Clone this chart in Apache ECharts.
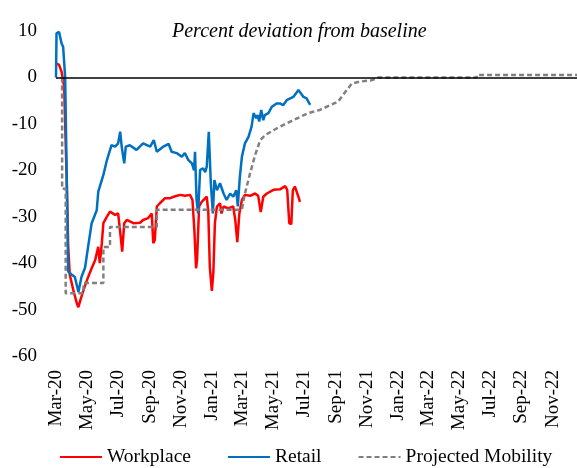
<!DOCTYPE html>
<html>
<head>
<meta charset="utf-8">
<script src="https://cdn.jsdelivr.net/npm/echarts@6/dist/echarts.min.js"></script>
<style>
  html, body { margin: 0; padding: 0; background: #fff; }
  #chart { width: 577px; height: 468px; }
</style>
</head>
<body>
<div id="chart"></div>
<script>
// x values are days since 1 Mar 2020
const tickDays = [0, 61, 122, 184, 245, 306, 365, 426, 487, 549, 610, 671, 730, 791, 852, 914, 975];
const tickLabels = ["Mar-20", "May-20", "Jul-20", "Sep-20", "Nov-20", "Jan-21", "Mar-21", "May-21", "Jul-21",
    "Sep-21", "Nov-21", "Jan-22", "Mar-22", "May-22", "Jul-22", "Sep-22", "Nov-22"];

const workplaceDays = [1, 6, 11, 16, 21, 24, 27, 34, 41, 44, 47, 54, 61, 70, 77, 83, 86, 90, 93, 100, 106, 116, 122, 127,
    130, 134, 139, 152, 165, 171, 181, 188, 191, 194, 198, 204, 214, 224, 234, 244, 253, 263, 268, 272, 275, 277, 281,
    286, 296, 299, 302, 306, 309, 312, 316, 322, 325, 329, 338, 348, 352, 356, 360, 365, 371, 381, 391, 397, 402, 407,
    414, 427, 440, 450, 454, 458, 462, 465, 469, 476, 479];
const workplace = [3.0, 2.7, 1.2, -2, -22, -36.5, -42.5, -45.8, -48.7, -49.5, -48.3, -45.8, -43.6, -41.1, -39.3, -36.5,
    -40, -35.7, -31.4, -30, -28.9, -29.6, -29.3, -34.3, -37.5, -31.4, -30.7, -31.4, -31.3, -30.7, -30.3, -29.3, -35.7,
    -35, -27.8, -27.1, -26, -26, -25.6, -25.3, -25.5, -25.3, -26.4, -33.6, -41.1, -39.3, -27.8, -26.8, -25.7, -28.9,
    -40.8, -46, -42, -31.4, -27.8, -27.1, -29.3, -27.8, -28.2, -27.8, -30.7, -35.5, -29.3, -26.4, -25.3, -25.5, -25,
    -25.5, -29, -25.7, -25, -24.2, -24.1, -23.4, -24.2, -31.4, -31.6, -24.3, -23.5, -25.7, -26.8];

const retailDays = [0, 1, 6, 11, 14, 18, 24, 31, 37, 44, 50, 57, 63, 70, 80, 83, 93, 100, 109, 116, 122, 126, 129, 134,
    137, 145, 158, 171, 185, 192, 198, 211, 221, 227, 237, 247, 253, 260, 267, 271, 273, 276, 279, 283, 289, 293, 296,
    300, 304, 308, 311, 316, 322, 329, 335, 342, 348, 354, 357, 361, 365, 371, 378, 384, 388, 393, 396, 399, 403, 407,
    410, 417, 424, 433, 440, 446, 453, 466, 476, 479, 486, 492, 499];
const retail = [0, 9.5, 9.8, 7.3, 6.6, 0, -41.8, -42.5, -43, -46.2, -43, -41, -36.5, -31.4, -28.6, -24.6, -21, -17.8,
    -14.6, -14.9, -14.2, -11.7, -14.9, -18.5, -14.9, -14.6, -15.6, -14.2, -14.9, -13.5, -16, -14.9, -14.3, -16, -16.3,
    -17.1, -16.3, -17.8, -18.5, -20, -16, -26.4, -29.3, -19.9, -19.6, -20.4, -19.2, -11.7, -22.8, -29.3, -22.1, -24.3,
    -22.8, -25, -26.4, -25, -25.7, -24.3, -27.8, -21.4, -17.1, -14.2, -12.8, -10.6, -7.7, -8.8, -8.1, -9.5, -7, -9.2,
    -8.1, -7.7, -6.3, -5.6, -5.6, -6.0, -4.9, -4.2, -2.7, -2.9, -4.2, -4.5, -5.9];

const projectedDays = [12, 12, 19, 19, 54, 54, 93, 93, 106, 106, 198, 198, 365, 371, 381, 391, 401, 411, 433, 460, 495,
    518, 554, 571, 581, 597, 620, 633, 826, 826, 1023];
const projected = [0, -24, -24, -46.5, -46.5, -44.3, -44.3, -36.5, -36.5, -32.2, -32.2, -28.5, -28.5, -25, -20.7, -16.7,
    -13.5, -12.4, -11, -9.5, -7.7, -7, -5.2, -2.7, -1.3, -0.9, -0.6, 0, 0, 0.5, 0.5];

const pairs = (xs, ys) => xs.map((x, i) => [x, ys[i]]);

const serif = "'Liberation Serif', 'Times New Roman', serif";
const chart = echarts.init(document.getElementById("chart"));

chart.setOption({
    animation: false,
    title: {
        text: "Percent deviation from baseline",
        left: 172,
        top: 22,
        padding: 0,
        textStyle: { fontFamily: serif, fontStyle: "italic", fontWeight: "normal", fontSize: 20, color: "#000" },
    },
    legend: {
        data: ["Workplace", "Retail", "Projected Mobility"],
        left: 54,
        top: 442,
        itemWidth: 42,
        itemHeight: 14,
        itemGap: 36,
        itemStyle: { opacity: 0 },
        textStyle: { fontFamily: serif, fontSize: 19.5, color: "#000" },
    },
    grid: { left: 56, right: 0, top: 31, bottom: 112, containLabel: false },
    xAxis: {
        type: "value",
        min: 0,
        max: 1023,
        axisLine: { show: false },
        axisTick: { show: false },
        splitLine: { show: false },
        axisLabel: {
            customValues: tickDays,
            rotate: 90,
            margin: 14,
            fontFamily: serif,
            fontSize: 19,
            color: "#000",
            formatter: (v) => tickLabels[tickDays.indexOf(v)] || "",
        },
    },
    yAxis: {
        type: "value",
        min: -60,
        max: 10,
        interval: 10,
        axisLine: { show: false },
        axisTick: { show: false },
        splitLine: { show: false },
        axisLabel: { margin: 19, fontFamily: serif, fontSize: 19, color: "#000" },
    },
    series: [
        {
            name: "Workplace",
            type: "line",
            data: pairs(workplaceDays, workplace),
            symbol: "none",
            lineStyle: { color: "#ff0000", width: 2.5 },
            itemStyle: { color: "#ff0000" },
            markLine: {
                silent: true,
                symbol: "none",
                label: { show: false },
                lineStyle: { color: "#000", width: 1.5, type: "solid" },
                data: [{ yAxis: 0 }],
            },
        },
        {
            name: "Retail",
            type: "line",
            data: pairs(retailDays, retail),
            symbol: "none",
            lineStyle: { color: "#0070c0", width: 2.5 },
            itemStyle: { color: "#0070c0" },
        },
        {
            name: "Projected Mobility",
            type: "line",
            data: pairs(projectedDays, projected),
            symbol: "none",
            lineStyle: { color: "#808080", width: 2.5, type: [5, 3] },
            itemStyle: { color: "#808080" },
        },
    ],
});
</script>
</body>
</html>
